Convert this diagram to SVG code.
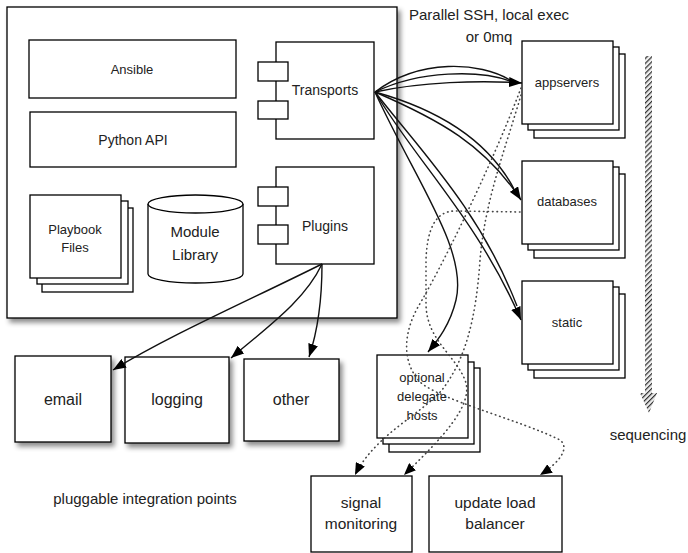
<svg xmlns="http://www.w3.org/2000/svg" width="688" height="553" viewBox="0 0 688 553">
<defs>
<style>
.b{fill:#fff;stroke:#000;stroke-width:1.3}
.t{font-family:"Liberation Sans",Arial,sans-serif;text-anchor:middle;fill:#222}
.s{fill:none;stroke:#111;stroke-width:1.4}
.d{fill:none;stroke:#444;stroke-width:1.6;stroke-dasharray:0.5 4;stroke-linecap:round}
.sh{filter:url(#shadow)}
</style>
<filter id="shadow" x="-10%" y="-10%" width="130%" height="130%">
<feDropShadow dx="3" dy="4" stdDeviation="2.5" flood-color="#000" flood-opacity="0.45"/>
</filter>
<marker id="ah" markerUnits="userSpaceOnUse" markerWidth="14" markerHeight="10" refX="13" refY="5" orient="auto">
<path d="M0,0 L13,5 L0,10 z" fill="#000"/>
</marker>
<marker id="ahd" markerUnits="userSpaceOnUse" markerWidth="13" markerHeight="10" refX="12" refY="5" orient="auto">
<path d="M0,0 L12,5 L0,10 z" fill="#000"/>
</marker>
<pattern id="hatch" patternUnits="userSpaceOnUse" width="3.5" height="3.5" patternTransform="rotate(45)">
<rect width="3.5" height="3.5" fill="#eee"/>
<line x1="0" y1="0" x2="0" y2="3.5" stroke="#333" stroke-width="2.4"/>
</pattern>
</defs>
<rect width="688" height="553" fill="#fff"/>

<g id="main">
<rect class="b sh" x="7" y="7" width="390" height="311"/>
</g>
<g id="ansible">
<rect class="b" x="29" y="40" width="207" height="58"/>
<text class="t" x="132" y="74" font-size="13">Ansible</text>
</g>
<g id="python-api">
<rect class="b" x="30" y="112" width="206" height="55"/>
<text class="t" x="133" y="145" font-size="14">Python API</text>
</g>
<g id="playbook-files">
<rect class="b" x="42" y="208" width="91" height="84"/>
<rect class="b" x="37" y="201" width="91" height="83"/>
<rect class="b" x="30" y="195" width="91" height="83"/>
<text class="t" x="75" y="234" font-size="13">Playbook</text>
<text class="t" x="75" y="252" font-size="13">Files</text>
</g>
<g id="module-library">
<path class="b" d="M148,204 L148,274 A47.5,9 0 0 0 243,274 L243,204"/>
<ellipse class="b" cx="195.5" cy="204" rx="47.5" ry="9"/>
<text class="t" x="195" y="237" font-size="15">Module</text>
<text class="t" x="195" y="260" font-size="15">Library</text>
</g>
<g id="transports">
<rect class="b" x="276" y="42" width="98" height="97"/>
<rect class="b" x="258" y="62" width="30" height="19"/>
<rect class="b" x="258" y="101" width="30" height="18"/>
<text class="t" x="325" y="95" font-size="14">Transports</text>
</g>
<g id="plugins">
<rect class="b" x="276" y="167" width="98" height="97"/>
<rect class="b" x="258" y="187" width="30" height="19"/>
<rect class="b" x="258" y="225" width="30" height="19"/>
<text class="t" x="325" y="231" font-size="14">Plugins</text>
</g>

<g id="ssh-label">
<text class="t" x="489" y="20" font-size="15">Parallel SSH, local exec</text>
<text class="t" x="489" y="42" font-size="15">or 0mq</text>
</g>
<g id="appservers">
<rect class="b" x="534" y="54" width="91" height="84"/>
<rect class="b" x="528" y="47" width="91" height="83"/>
<rect class="b" x="522" y="41" width="91" height="83"/>
<text class="t" x="567" y="87" font-size="13">appservers</text>
</g>
<g id="databases">
<rect class="b" x="534" y="174" width="91" height="84"/>
<rect class="b" x="528" y="167" width="91" height="83"/>
<rect class="b" x="522" y="161" width="91" height="83"/>
<text class="t" x="567" y="206" font-size="13">databases</text>
</g>
<g id="static">
<rect class="b" x="534" y="294" width="91" height="84"/>
<rect class="b" x="528" y="287" width="91" height="83"/>
<rect class="b" x="522" y="281" width="91" height="83"/>
<text class="t" x="567" y="327" font-size="13">static</text>
</g>
<g id="sequencing">
<rect x="645" y="56" width="7" height="338" fill="url(#hatch)"/>
<polygon points="640,393 657,393 649,413" fill="url(#hatch)"/>
<text class="t" x="648" y="440" font-size="15">sequencing</text>
</g>

<g id="email">
<rect class="b sh" x="15" y="356" width="96" height="86"/>
<text class="t" x="63" y="405" font-size="16">email</text>
</g>
<g id="logging">
<rect class="b sh" x="125" y="357" width="104" height="86"/>
<text class="t" x="177" y="405" font-size="16">logging</text>
</g>
<g id="other">
<rect class="b sh" x="244" y="359" width="95" height="82"/>
<text class="t" x="291" y="405" font-size="16">other</text>
</g>
<g id="pluggable-label">
<text class="t" x="145" y="504" font-size="15">pluggable integration points</text>
</g>
<g id="delegate-hosts">
<rect class="b" x="389" y="368" width="91" height="84"/>
<rect class="b" x="383" y="362" width="91" height="82"/>
<rect class="b" x="377" y="355" width="91" height="83"/>
<text class="t" x="422" y="382" font-size="13">optional</text>
<text class="t" x="422" y="401" font-size="13">delegate</text>
<text class="t" x="422" y="420" font-size="13">hosts</text>
</g>
<g id="signal-monitoring">
<rect class="b" x="311" y="476" width="101" height="76"/>
<text class="t" x="361" y="508" font-size="15.5">signal</text>
<text class="t" x="361" y="529" font-size="15.5">monitoring</text>
</g>
<g id="update-load-balancer">
<rect class="b" x="429" y="476" width="133" height="76"/>
<text class="t" x="495" y="508" font-size="15.5">update load</text>
<text class="t" x="495" y="529" font-size="15.5">balancer</text>
</g>

<g id="connectors">
<path class="s" d="M375,92 C420,58 480,62 510,80"/>
<path class="s" d="M375,92 C420,70 480,70 510,81"/>
<path class="s" d="M375,92 C420,82 480,80 522,83" marker-end="url(#ah)"/>
<path class="s" d="M375,92 C440,110 488,140 514,189"/>
<path class="s" d="M375,92 C440,120 485,145 521,200" marker-end="url(#ah)"/>
<path class="s" d="M375,92 C420,150 480,210 517,306"/>
<path class="s" d="M375,92 C415,160 478,220 521,320" marker-end="url(#ah)"/>
<path class="s" d="M375,92 C415,180 468,250 456,300 C450,325 438,340 428,352" marker-end="url(#ah)"/>
<path class="s" d="M322,264 C250,300 170,335 113,370" marker-end="url(#ah)"/>
<path class="s" d="M322,264 C305,300 270,325 231,358" marker-end="url(#ah)"/>
<path class="s" d="M322,264 C322,300 318,330 309,357" marker-end="url(#ah)"/>
<path class="d" d="M521,88 C490,170 440,270 418,307 C405,330 400,360 420,382 C440,400 520,420 560,440 C570,448 560,462 540,475" marker-end="url(#ahd)"/>
<path class="d" d="M520,212 L455,211 C435,211 427,230 426,260 L426,305 C427,340 455,355 465,380 C475,405 440,440 404,475" marker-end="url(#ahd)"/>
<path class="d" d="M521,95 C505,150 485,200 480,260 C476,320 465,360 442,390 C420,415 375,435 355,475" marker-end="url(#ahd)"/>
</g>
</svg>
